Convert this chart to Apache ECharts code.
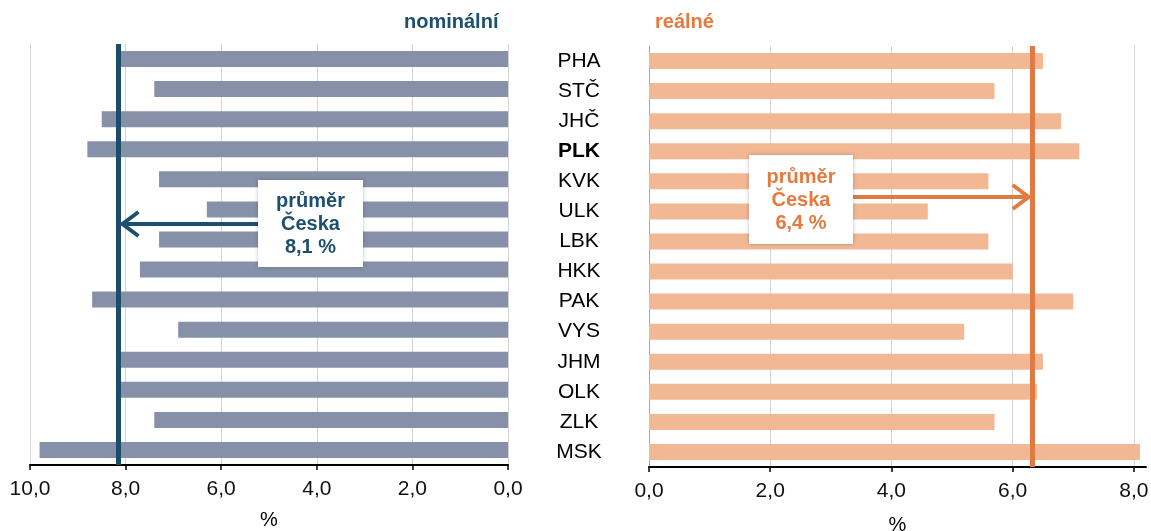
<!DOCTYPE html>
<html>
<head>
<meta charset="utf-8">
<script src="https://cdn.jsdelivr.net/npm/echarts@6/dist/echarts.min.js"></script>
<style>
  html, body { margin: 0; padding: 0; background: #fff; }
  #main { width: 1151px; height: 531px; }
</style>
</head>
<body>
<div id="main"></div>
<script>
// kraje
var regions = ['PHA', 'STČ', 'JHČ', 'PLK', 'KVK', 'ULK', 'LBK', 'HKK', 'PAK', 'VYS', 'JHM', 'OLK', 'ZLK', 'MSK'];
// nominální růst mezd (%)
var nominal = [8.1, 7.4, 8.5, 8.8, 7.3, 6.3, 7.3, 7.7, 8.7, 6.9, 8.1, 8.1, 7.4, 9.8];
// reálný růst mezd (%)
var real = [6.5, 5.7, 6.8, 7.1, 5.6, 4.6, 5.6, 6.0, 7.0, 5.2, 6.5, 6.4, 5.7, 8.1];
// průměr Česka
var avgNominal = 8.15;
var avgReal = 6.33;
var avgNominalText = '8,1 %';
var avgRealText = '6,4 %';

var FONT = '"Liberation Sans", Arial, sans-serif';
var BLUE = '#1d4f6e';
var ORANGE = '#e5793e';
var LINE_ORANGE = '#e07a42';

function fmt(v) {
  // jen sudé hodnoty, desetinná čárka
  if (Math.abs(v % 2) > 1e-6) return '';
  return v.toFixed(1).replace('.', ',');
}

var myChart = echarts.init(document.getElementById('main'));

var option = {
  animation: false,
  title: [
    { text: 'nominální', left: 404, top: 12, padding: 0,
      textStyle: { color: BLUE, fontSize: 20, fontWeight: 'bold', fontFamily: FONT } },
    { text: 'reálné', left: 655, top: 12, padding: 0,
      textStyle: { color: ORANGE, fontSize: 20, fontWeight: 'bold', fontFamily: FONT } }
  ],
  grid: [
    { left: 30, right: 643, top: 44, bottom: 66, outerBoundsMode: 'none', containLabel: false },
    { left: 649, right: 5, top: 46, bottom: 64, outerBoundsMode: 'none', containLabel: false }
  ],
  xAxis: [
    {
      gridIndex: 0, type: 'value', min: 0, max: 10, interval: 2, inverse: true,
      name: '%', nameLocation: 'middle', nameGap: 45,
      nameTextStyle: { color: '#000', fontSize: 20, fontFamily: FONT },
      axisLine: { show: true, lineStyle: { color: '#000', width: 2 } },
      axisTick: { show: true, length: 5, lineStyle: { color: '#000', width: 1.5 } },
      axisLabel: { color: '#111', fontSize: 21, fontFamily: FONT, margin: 14, formatter: fmt },
      splitLine: { show: true, lineStyle: { color: '#d4d4d4', width: 1 } }
    },
    {
      gridIndex: 1, type: 'value', min: 0, max: 8.2, interval: 2,
      name: '%', nameLocation: 'middle', nameGap: 48,
      nameTextStyle: { color: '#000', fontSize: 20, fontFamily: FONT },
      axisLine: { show: true, lineStyle: { color: '#000', width: 2 } },
      axisTick: { show: true, length: 5, lineStyle: { color: '#000', width: 1.5 } },
      axisLabel: { color: '#111', fontSize: 21, fontFamily: FONT, margin: 14, formatter: fmt,
                   showMaxLabel: false },
      splitLine: { show: true, showMaxLine: false, lineStyle: { color: '#d4d4d4', width: 1 } }
    }
  ],
  yAxis: [
    {
      gridIndex: 0, type: 'category', data: regions, inverse: true,
      axisLine: { show: false }, axisTick: { show: false }, axisLabel: { show: false }
    },
    {
      gridIndex: 1, type: 'category', data: regions, inverse: true,
      axisLine: { show: true, lineStyle: { color: '#a6a6a6', width: 1 } },
      axisTick: { show: false },
      axisLabel: {
        color: '#000', fontSize: 21, fontFamily: FONT, align: 'center', margin: 70,
        formatter: function (v) { return v === 'PLK' ? '{b|' + v + '}' : v; },
        rich: { b: { fontWeight: 'bold', fontSize: 21, fontFamily: FONT, color: '#000' } }
      }
    }
  ],
  series: [
    {
      name: 'nominální', type: 'bar', xAxisIndex: 0, yAxisIndex: 0,
      data: nominal, barWidth: 16, itemStyle: { color: '#8691a9' },
      markLine: {
        silent: true, symbol: 'none', label: { show: false },
        lineStyle: { color: '#1b4d6b', width: 5, type: 'solid' },
        data: [{ xAxis: avgNominal }]
      }
    },
    {
      name: 'reálné', type: 'bar', xAxisIndex: 1, yAxisIndex: 1,
      data: real, barWidth: 16, itemStyle: { color: '#f2b894' },
      markLine: {
        silent: true, symbol: 'none', label: { show: false },
        lineStyle: { color: LINE_ORANGE, width: 5, type: 'solid' },
        data: [{ xAxis: avgReal }]
      }
    }
  ]
};

myChart.setOption(option);

// popisky průměru se šipkou
var xNom = myChart.convertToPixel({ xAxisIndex: 0 }, avgNominal);
var xReal = myChart.convertToPixel({ xAxisIndex: 1 }, avgReal);

function box(x, y, w, h, text, color) {
  return [
    { type: 'rect', z: 100, shape: { x: x, y: y, width: w, height: h },
      style: { fill: '#fff', shadowBlur: 4, shadowColor: 'rgba(0,0,0,0.25)' } },
    { type: 'text', z: 101, x: x + w / 2, y: y + h / 2 + 1,
      style: { text: text, fill: color, font: 'bold 20px ' + FONT,
               align: 'center', verticalAlign: 'middle', lineHeight: 23 } }
  ];
}

function arrow(x1, x2, y, dir, color) {
  // dir: -1 = doleva, 1 = doprava
  return [
    { type: 'polyline', z: 99, shape: { points: [[x1, y], [x2, y]] },
      style: { stroke: color, lineWidth: 4, fill: null } },
    { type: 'polyline', z: 99, shape: { points: [[x2 - dir * 16, y - 12], [x2, y], [x2 - dir * 16, y + 12]] },
      style: { stroke: color, lineWidth: 4, fill: null } }
  ];
}

myChart.setOption({
  graphic: [].concat(
    arrow(258, xNom + 4, 224, -1, BLUE),
    box(258, 180, 105, 87, 'průměr\nČeska\n' + avgNominalText, BLUE),
    arrow(852, xReal - 4, 197, 1, LINE_ORANGE),
    box(749, 155, 104, 89, 'průměr\nČeska\n' + avgRealText, ORANGE)
  )
});
</script>
</body>
</html>
